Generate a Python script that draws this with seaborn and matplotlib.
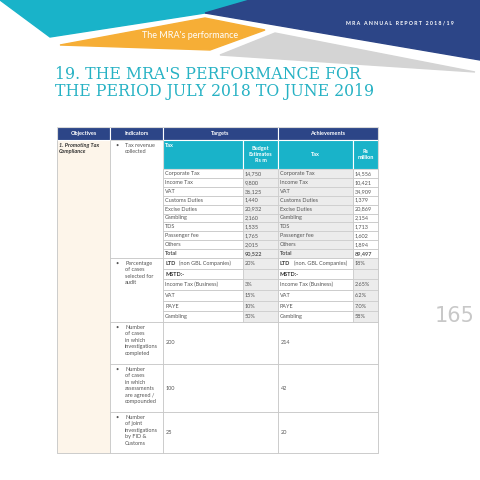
import matplotlib
matplotlib.use("Agg")
import matplotlib.pyplot as plt
import seaborn as sns
from matplotlib.patches import Polygon, Rectangle

sns.set_theme(style="white")
plt.rcParams['font.family'] = ['Lato', 'DejaVu Sans']

tax_names = ["Corporate Tax", "Income Tax", "VAT", "Customs Duties", "Excise Duties",
             "Gambling", "TDS", "Passenger fee", "Others", "Total"]
tax_targets = ["14,750", "9,800", "36,125", "1,440", "20,932", "2,160", "1,535", "1,765", "2,015", "90,522"]
tax_achieved = ["14,556", "10,421", "34,909", "1,379", "20,869", "2,154", "1,713", "1,602", "1,894", "89,497"]
audit_names_t = ["LTD (non GBL Companies)", "MSTD:-", "Income Tax (Business)", "VAT", "PAYE", "Gambling"]
audit_names_a = ["LTD (non. GBL Companies)", "MSTD:-", "Income Tax (Business)", "VAT", "PAYE", "Gambling"]
audit_targets = ["20%", "", "3%", "15%", "10%", "50%"]
audit_achieved = ["18%", "", "2.65%", "6.2%", "7.0%", "58%"]
other_ind = ["Number\nof cases\nin which\ninvestigations\ncompleted",
             "Number\nof cases\nin which\nassessments\nare agreed /\ncompounded",
             "Number\nof joint\ninvestigations\nby FID &\nCustoms"]
other_targets = ["200", "100", "25"]
other_achieved = ["214", "42", "20"]

fig = plt.figure(figsize=(4.8, 4.8), dpi=100)
ax = fig.add_axes([0, 0, 1, 1])
ax.set_xlim(0, 480); ax.set_ylim(480, 0); ax.axis("off")

NAVY = "#2c4587"; TEAL = "#19b3c9"; ORANGE = "#f6ae36"; GREY = "#d4d4d4"
ax.add_patch(Polygon([[0, 0], [250, 0], [205, 13], [50, 37]], color=TEAL))
ax.add_patch(Polygon([[205, 13], [250, 0], [480, 0], [480, 60]], color=NAVY))
ax.add_patch(Polygon([[60, 45], [205, 18], [265, 30], [210, 50]], color=ORANGE))
ax.add_patch(Polygon([[220, 55], [275, 33], [475, 72]], color=GREY))
ax.text(190, 35, "The MRA's performance", color="white", fontsize=6.5, ha="center", va="center")
ax.text(400, 23, "M R A   A N N U A L   R E P O R T   2 0 1 8 / 1 9", color="white",
        fontsize=3.8, ha="center", va="center", weight="bold")
ax.text(55, 83, "19. THE MRA'S PERFORMANCE FOR\nTHE PERIOD JULY 2018 TO JUNE 2019", color="#27b2c4",
        fontsize=11.3, family="DejaVu Serif", va="center", ha="left", linespacing=1.05)
ax.text(455, 316, "165", color="#c8c8c8", fontsize=15, ha="center", va="center", family="DejaVu Sans Condensed")

LC = "#c9c9c9"; FS = 4.0; TC = "#555555"
def rect(x0, y0, x1, y1, fc="none", ec=LC, lw=0.5):
    ax.add_patch(Rectangle((x0, y0), x1 - x0, y1 - y0, fc=fc, ec=ec, lw=lw))

X0, X1, X2, X3, X4, X5, X6 = 57, 110, 163, 243, 278, 353, 378
rect(X0, 140, X1, 453, fc="#fdf5ea")
for a, b, t in [(X0, X1, "Objectives"), (X1, X2, "Indicators"), (X2, X4, "Targets"), (X4, X6, "Achievements")]:
    rect(a, 127, b, 140, fc=NAVY, ec="white", lw=0.8)
    ax.text((a + b) / 2, 133.5, t, color="white", fontsize=FS, weight="bold", ha="center", va="center")
for a, b in [(X2, X3), (X3, X4), (X4, X5), (X5, X6)]:
    rect(a, 140, b, 169, fc=TEAL, ec="white", lw=0.8)
ax.text(X2 + 2, 143, "Tax", color="white", fontsize=FS, weight="bold", va="top")
ax.text((X3 + X4) / 2, 154.5, "Budget\nEstimates\nRs m", color="white", fontsize=FS, weight="bold", ha="center", va="center")
ax.text((X4 + X5) / 2, 154.5, "Tax", color="white", fontsize=FS, weight="bold", ha="center", va="center")
ax.text((X5 + X6) / 2, 154.5, "Rs\nmillion", color="white", fontsize=FS, weight="bold", ha="center", va="center")
ax.text(X0 + 2, 143, "1. Promoting Tax\nCompliance", fontsize=FS, style="italic", weight="bold", color="#333333", va="top")

def bullet(y, txt):
    ax.text(X1 + 5, y, "•", fontsize=FS, color=TC, va="top")
    ax.text(X1 + 15, y, txt, fontsize=FS, color=TC, va="top", linespacing=1.35)

rect(X1, 140, X2, 258)
bullet(143, "Tax revenue\ncollected")
rh = (258 - 169) / len(tax_names)
for i, (n, t, a) in enumerate(zip(tax_names, tax_targets, tax_achieved)):
    y = 169 + i * rh
    bold = "bold" if n == "Total" else "normal"
    rect(X2, y, X3, y + rh); rect(X3, y, X4, y + rh, fc="#ececec")
    rect(X4, y, X5, y + rh, fc="#ececec"); rect(X5, y, X6, y + rh)
    for xx, s in [(X2, n), (X3, t), (X4, n), (X5, a)]:
        ax.text(xx + 2, y + rh / 2, s, fontsize=FS, color=TC, va="center", weight=bold)

rect(X1, 258, X2, 322)
bullet(261, "Percentage\nof cases\nselected for\naudit")
ah = (322 - 258) / len(audit_names_t)
for i in range(len(audit_names_t)):
    y = 258 + ah * i
    rect(X2, y, X3, y + ah); rect(X3, y, X4, y + ah, fc="#ececec")
    rect(X4, y, X5, y + ah); rect(X5, y, X6, y + ah, fc="#ececec")
    for xx, s in [(X2, audit_names_t[i]), (X3, audit_targets[i]), (X4, audit_names_a[i]), (X5, audit_achieved[i])]:
        if s.startswith("LTD") or s.startswith("MSTD"):
            head, _, rest = s.partition(" ")
            ax.text(xx + 2, y + ah / 2, head, fontsize=FS, color="#333333", va="center", weight="bold")
            if rest:
                ax.text(xx + 3 + 4.2 * len(head), y + ah / 2, rest, fontsize=FS, color=TC, va="center")
            continue
        ax.text(xx + 2, y + ah / 2, s, fontsize=FS, color=TC, va="center")

blocks = [(322, 364), (364, 412), (412, 453)]
for (y0, y1), ind, t, a in zip(blocks, other_ind, other_targets, other_achieved):
    rect(X1, y0, X2, y1); rect(X2, y0, X4, y1); rect(X4, y0, X6, y1)
    bullet(y0 + 3, ind)
    ax.text(X2 + 3, (y0 + y1) / 2, t, fontsize=FS, color=TC, va="center")
    ax.text(X4 + 3, (y0 + y1) / 2, a, fontsize=FS, color=TC, va="center")
rect(X0, 127, X6, 453)

fig.savefig("out.png", dpi=100, facecolor="white")
